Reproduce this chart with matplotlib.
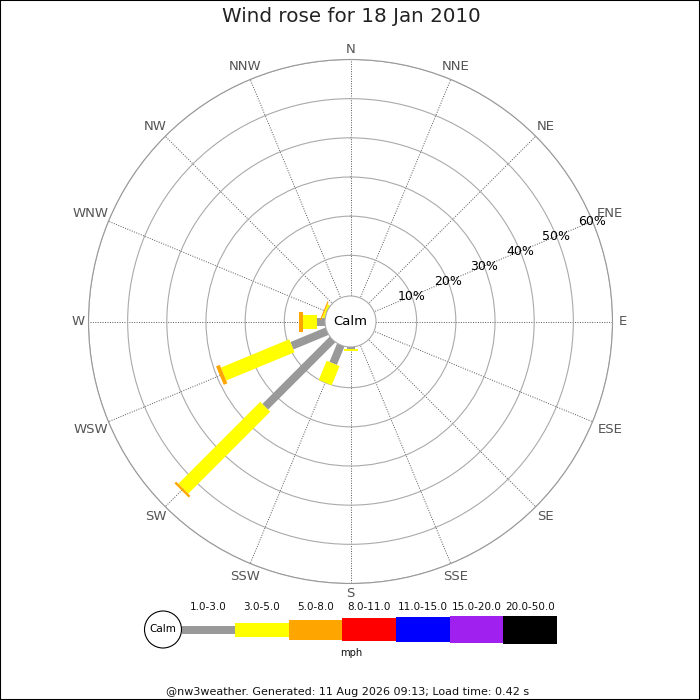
import numpy as np
import matplotlib
matplotlib.use("Agg")
import matplotlib.pyplot as plt
from matplotlib.patches import Circle, Rectangle

# data: percent of time per direction and speed band
directions = ["N", "NNE", "NE", "ENE", "E", "ESE", "SE", "SSE",
              "S", "SSW", "SW", "WSW", "W", "WNW", "NW", "NNW"]
speed_bins = ["1.0-3.0", "3.0-5.0", "5.0-8.0", "8.0-11.0",
              "11.0-15.0", "15.0-20.0", "20.0-50.0"]
bin_colors = ["#999999", "#ffff00", "#ffa500", "#ff0000",
              "#0000ff", "#a020f0", "#000000"]
# thickness of each band in pixels (rose + legend)
bin_px = [8, 14, 20, 23, 25, 27, 28]

freq = {
    "S":   [0.1, 0.5, 0.0],
    "SSW": [4.7, 5.3, 0.0],
    "SW":  [23.9, 29.6, 0.6],
    "WSW": [9.3, 18.9, 1.0],
    "W":   [1.7, 3.5, 1.1],
    "WNW": [0.0, 0.2, 0.3],
}
ring_pcts = [10, 20, 30, 40, 50, 60]

title = "Wind rose for 18 Jan 2010"
footer = "@nw3weather. Generated: 11 Aug 2026 09:13; Load time: 0.42 s"

# geometry (pixels)
W = H = 700
cx, cy = 350.5, 321.5
R = 262.0
zero_px = 27.0
calm_px = 25.5
rmax = 60.0
rmin = -zero_px / ((R - zero_px) / rmax)
px_per = R / (rmax - rmin)

fig = plt.figure(figsize=(7, 7), dpi=100)
fig.patch.set_facecolor("white")

ax = fig.add_axes([(cx - R) / W, (H - cy - R) / H, 2 * R / W, 2 * R / H],
                  projection="polar")
ax.set_theta_zero_location("N")
ax.set_theta_direction(-1)
ax.set_ylim(rmin, rmax)
angles = np.arange(16) * 22.5
ax.set_thetagrids(angles, [""] * 16)
ax.set_rgrids(ring_pcts, [""] * len(ring_pcts))
ax.xaxis.grid(True, color="#555555", linestyle=(0, (1, 1.5)), linewidth=0.7)
ax.yaxis.grid(True, color="#aaaaaa", linestyle="-", linewidth=0.8)
ax.spines["polar"].set_color("#999999")
ax.spines["polar"].set_linewidth(0.8)
ax.set_axisbelow(True)

# stacked radial bars
for name, vals in freq.items():
    th = np.deg2rad(directions.index(name) * 22.5)
    start = rmin
    cum = 0.0
    for i, v in enumerate(vals):
        if v <= 0:
            continue
        end = cum + v
        ax.plot([th, th], [start, end], color=bin_colors[i],
                linewidth=bin_px[i] * 0.72, solid_capstyle="butt",
                zorder=3 + i)
        start = end
        cum = end

# calm circle
ax.add_patch(Circle((0.5, 0.5), calm_px / (2 * R), transform=ax.transAxes,
                    facecolor="white", edgecolor="#aaaaaa", linewidth=0.8,
                    zorder=20, clip_on=False))
ax.text(0.5, 0.5, "Calm", transform=ax.transAxes, ha="center", va="center",
        fontsize=9.5, color="black", zorder=21)

# percent labels along ENE
th_ene = np.deg2rad(67.5)
for p in ring_pcts:
    ax.text(th_ene, p, f"{p}%", ha="center", va="center", fontsize=9,
            color="black", zorder=15)

# compass labels
for i, name in enumerate(directions):
    th = np.deg2rad(angles[i])
    r_px = 272 + (len(name) - 1) * 5 * abs(np.sin(th))
    ax.text(th, r_px / px_per + rmin, name, ha="center", va="center",
            fontsize=9.5, color="#555555", clip_on=False)

# overlay in pixel coordinates for title, legend, footer
lg = fig.add_axes([0, 0, 1, 1])
lg.set_xlim(0, W)
lg.set_ylim(H, 0)
lg.axis("off")
lg.patch.set_alpha(0)

lg.text(351, 17, title, ha="center", va="center", fontsize=14.3, color="#222222")

ly = 629.5
lg.add_patch(Circle((163, ly), 18.5, facecolor="white", edgecolor="black",
                    linewidth=0.8))
lg.text(163, ly, "Calm", ha="center", va="center", fontsize=7.5)
seg_w = 53.6
lefts = 181.5 + seg_w * np.arange(len(speed_bins))
lg.bar(lefts, bin_px, width=seg_w, bottom=ly - np.array(bin_px) / 2,
       align="edge", color=bin_colors, linewidth=0)
for x0, lab in zip(lefts, speed_bins):
    lg.text(x0 + seg_w / 2, 606.5, lab, ha="center", va="center",
            fontsize=7.5, color="#111111")
lg.text(351, 653, "mph", ha="center", va="center", fontsize=7.2, color="#111111")

lg.text(348, 692, footer, ha="center", va="center", fontsize=8, color="#111111")

fig.patches.append(Rectangle((0, 0), 1, 1, transform=fig.transFigure,
                             fill=False, edgecolor="black", linewidth=1.5))

fig.savefig("out.png", dpi=100)
